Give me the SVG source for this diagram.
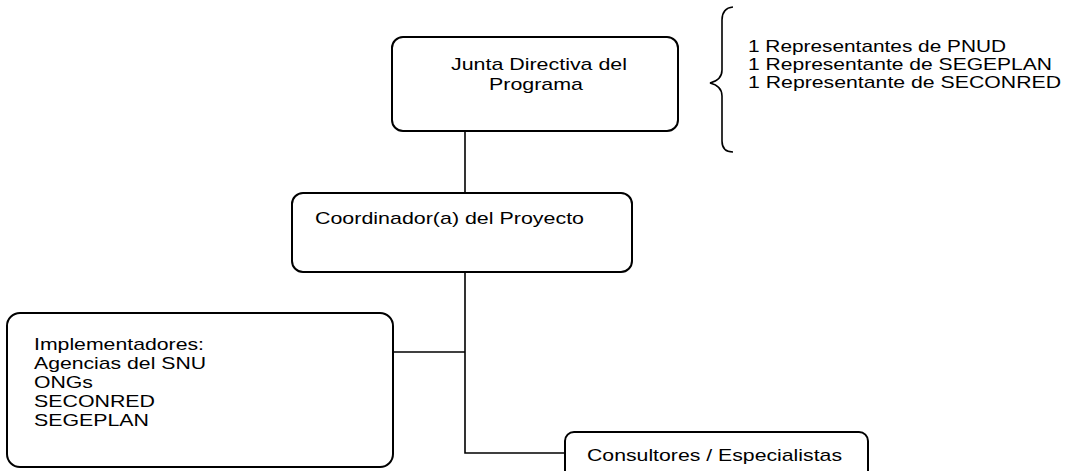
<svg xmlns="http://www.w3.org/2000/svg" width="1065" height="471" viewBox="0 0 1065 471">
<style>
.box{fill:#fff;stroke:#000;stroke-width:2}
.ln{fill:none;stroke:#000;stroke-width:1.6}
text{font-family:"Liberation Sans",Arial,sans-serif;font-size:17px;fill:#000}
</style>
<rect width="1065" height="471" fill="#fff"/>
<g id="connectors">
<line class="ln" x1="465" y1="131" x2="465" y2="193"/>
<polyline class="ln" points="465,272 465,453 565,453"/>
<line class="ln" x1="393" y1="352" x2="465" y2="352"/>
</g>
<g id="junta">
<rect class="box" x="392" y="37" width="286" height="94" rx="11"/>
<text x="451" y="70" textLength="176" lengthAdjust="spacingAndGlyphs">Junta Directiva del</text>
<text x="489" y="90" textLength="94" lengthAdjust="spacingAndGlyphs">Programa</text>
</g>
<g id="representantes">
<path class="ln" d="M733,7 Q722,8 722,20 L722,70 Q722,80 710,83 Q722,86 722,96 L722,141 Q722,152 733,152"/>
<text x="748" y="52" textLength="258" lengthAdjust="spacingAndGlyphs">1 Representantes de PNUD</text>
<text x="748" y="70" textLength="304" lengthAdjust="spacingAndGlyphs">1 Representante de SEGEPLAN</text>
<text x="748" y="88" textLength="313" lengthAdjust="spacingAndGlyphs">1 Representante de SECONRED</text>
</g>
<g id="coordinador">
<rect class="box" x="292" y="193" width="340" height="79" rx="11"/>
<text x="315" y="224" textLength="269" lengthAdjust="spacingAndGlyphs">Coordinador(a) del Proyecto</text>
</g>
<g id="implementadores">
<rect class="box" x="7" y="313" width="386" height="154" rx="13"/>
<text x="34" y="350" textLength="170" lengthAdjust="spacingAndGlyphs">Implementadores:</text>
<text x="34" y="369" textLength="172" lengthAdjust="spacingAndGlyphs">Agencias del SNU</text>
<text x="34" y="388" textLength="59" lengthAdjust="spacingAndGlyphs">ONGs</text>
<text x="34" y="407" textLength="121" lengthAdjust="spacingAndGlyphs">SECONRED</text>
<text x="34" y="426" textLength="115" lengthAdjust="spacingAndGlyphs">SEGEPLAN</text>
</g>
<g id="consultores">
<rect class="box" x="565" y="432" width="303" height="60" rx="9"/>
<text x="587" y="461" textLength="255" lengthAdjust="spacingAndGlyphs">Consultores / Especialistas</text>
</g>
</svg>
